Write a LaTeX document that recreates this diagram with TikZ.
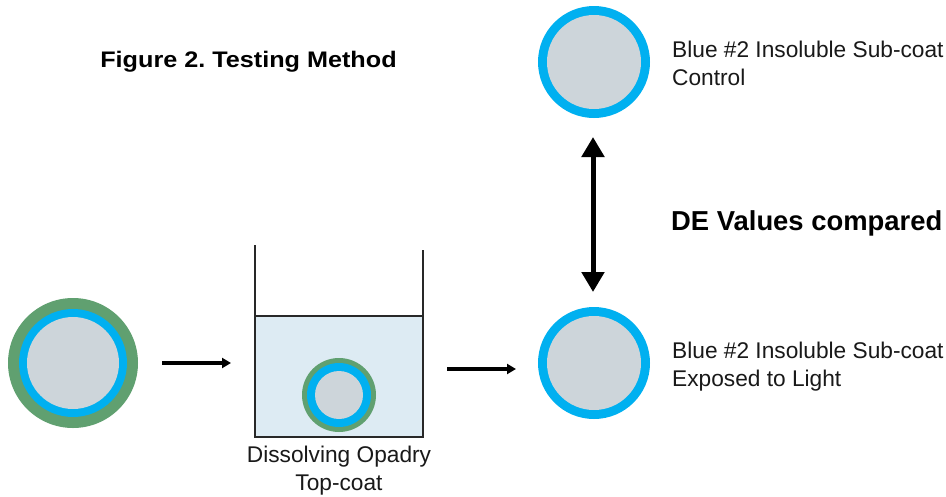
\documentclass[tikz,border=0pt]{standalone}
\usepackage{fontspec}
\setmainfont{Liberation Sans}
\usetikzlibrary{arrows.meta}
\frenchspacing
\definecolor{coatgreen}{RGB}{96,160,112}
\definecolor{coatblue}{RGB}{0,176,240}
\definecolor{coregray}{RGB}{205,213,218}
\definecolor{liquid}{RGB}{221,235,243}
\definecolor{wall}{RGB}{40,40,40}
\tikzset{
  bodytext/.style={font=\fontsize{22.7}{28}\selectfont, inner sep=0pt, text=black!90},
  smallarrow/.style={line width=3.2pt, -{Triangle[length=9pt,width=10pt]}},
  bigarrow/.style={line width=5pt, {Triangle[length=20pt,width=22pt]}-{Triangle[length=20pt,width=22pt]}},
}
\begin{document}
\begin{tikzpicture}[x=1pt,y=-1pt]
\useasboundingbox[fill=white] (0,0) rectangle (946,496);

% title
\node[anchor=base, inner sep=0pt, font=\fontsize{22.5}{26}\bfseries\selectfont] (title) at (248.5,67) {\scalebox{1.12}[1]{Figure 2. Testing Method}};

% left tablet
\coordinate (t1) at (73,363);
\fill[coatgreen] (t1) circle (65pt);
\fill[coatblue] (t1) circle (54pt);
\fill[coregray] (t1) circle (46pt);

% beaker
\fill[liquid] (255,316) rectangle (423,437);
\draw[wall, line width=1.3pt] (255,316) -- (423,316);
\draw[wall, line width=1.3pt] (255,245) -- (255,437) -- (423,437) -- (423,250);
\coordinate (t2) at (339,395);
\fill[coatgreen] (t2) circle (37pt);
\fill[coatblue] (t2) circle (32pt);
\fill[coregray] (t2) circle (24pt);
\node[bodytext, anchor=base] (dis1) at (339,462) {Dissolving Opadry};
\node[bodytext, anchor=base] (dis2) at (339,490) {Top-coat};

% top right tablet
\coordinate (t3) at (594,62);
\fill[coatblue] (t3) circle (56pt);
\fill[coregray] (t3) circle (47pt);
\node[bodytext, anchor=base west] (c1) at (672,57) {Blue \#2 Insoluble Sub-coat};
\node[bodytext, anchor=base west] (c2) at (672,85) {Control};

% bottom right tablet
\coordinate (t4) at (594,363);
\fill[coatblue] (t4) circle (56pt);
\fill[coregray] (t4) circle (47pt);
\node[bodytext, anchor=base west] (e1) at (672,358) {Blue \#2 Insoluble Sub-coat};
\node[bodytext, anchor=base west] (e2) at (672,386) {Exposed to Light};

% arrows
\coordinate (a1s) at (162,363);
\coordinate (a1e) at (231,363);
\draw[smallarrow] (a1s) -- (a1e);
\coordinate (a2s) at (447,369);
\coordinate (a2e) at (516,369);
\draw[smallarrow] (a2s) -- (a2e);
\coordinate (d1) at (593,137);
\coordinate (d2) at (593,292);
\draw[bigarrow] (d1) -- (d2);

\node[anchor=base west, inner sep=0pt, font=\fontsize{27.4}{32}\bfseries\selectfont] (de) at (671,230) {DE Values compared};
\end{tikzpicture}
\end{document}
